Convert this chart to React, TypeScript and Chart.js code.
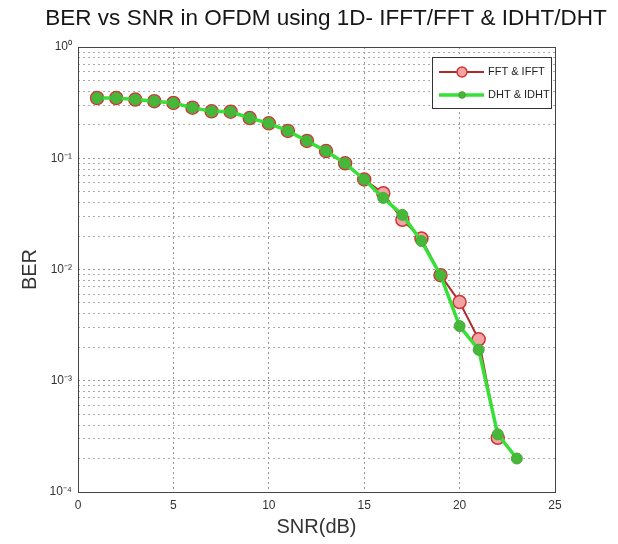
import React, { useEffect, useRef } from 'react';
import { Chart, registerables } from 'chart.js';

Chart.register(...registerables);

// ---- data ----
const snrFFT = [1, 2, 3, 4, 5, 6, 7, 8, 9, 10, 11, 12, 13, 14, 15, 16, 17, 18, 19, 20, 21, 22];
const berFFT = [0.348, 0.348, 0.337, 0.326, 0.314, 0.285, 0.264, 0.262, 0.23, 0.206, 0.176, 0.143, 0.116, 0.09, 0.0645, 0.0485, 0.028, 0.019, 0.0089, 0.0051, 0.00236, 0.000307];
const snrDHT = [1, 2, 3, 4, 5, 6, 7, 8, 9, 10, 11, 12, 13, 14, 15, 16, 17, 18, 19, 20, 21, 22, 23];
const berDHT = [0.348, 0.348, 0.337, 0.326, 0.314, 0.285, 0.264, 0.262, 0.23, 0.206, 0.176, 0.143, 0.116, 0.09, 0.0645, 0.044, 0.031, 0.018, 0.0089, 0.0031, 0.0019, 0.00033, 0.0002];

const seriesLabels = ['FFT & IFFT', 'DHT & IDHT'];
const xTicks = [0, 5, 10, 15, 20, 25];
const yDecades = [1e-4, 1e-3, 1e-2, 1e-1, 1];
const yTickLabels = ['10⁻⁴', '10⁻³', '10⁻²', '10⁻¹', '10⁰'];
const titleText = 'BER vs SNR in OFDM using 1D- IFFT/FFT & IDHT/DHT';
const xTitle = 'SNR(dB)';
const yTitle = 'BER';

const FONT = "'Liberation Sans', Arial, Helvetica, sans-serif";

// grid values for log axis (decades + 2..9 minors)
const yGridValues: number[] = [];
for (let i = 0; i < yDecades.length - 1; i++) {
  for (let m = 1; m <= 9; m++) yGridValues.push(m * yDecades[i]);
}
yGridValues.push(yDecades[yDecades.length - 1]);

const isDecade = (v: number) => yDecades.some((d) => Math.abs(Math.log10(v) - Math.log10(d)) < 1e-6);

const titlePlugin = {
  id: 'wideTitle',
  afterDraw(chart: any) {
    const { ctx } = chart;
    ctx.save();
    ctx.fillStyle = '#161616';
    ctx.font = `22.5px ${FONT}`;
    ctx.textAlign = 'center';
    ctx.textBaseline = 'middle';
    ctx.fillText(titleText, 326, 19);
    ctx.restore();
  },
};

const boxPlugin = {
  id: 'boxPlugin',
  afterDraw(chart: any) {
    const { ctx, chartArea } = chart;
    ctx.save();
    ctx.setLineDash([]);
    ctx.strokeStyle = '#444';
    ctx.lineWidth = 1;
    ctx.strokeRect(Math.round(chartArea.left) + 0.5, Math.round(chartArea.top) + 0.5,
      Math.round(chartArea.right - chartArea.left), Math.round(chartArea.bottom - chartArea.top));
    ctx.restore();
  },
};

const legendPlugin = {
  id: 'insideLegend',
  afterDraw(chart: any) {
    const { ctx } = chart;
    const x0 = 432, y0 = 57, w = 119, h = 51;
    ctx.save();
    ctx.setLineDash([]);
    ctx.fillStyle = '#fff';
    ctx.fillRect(x0, y0, w, h);
    ctx.strokeStyle = '#333';
    ctx.lineWidth = 1;
    ctx.strokeRect(x0 + 0.5, y0 + 0.5, w, h);
    const rows = [y0 + 15, y0 + 38];
    chart.data.datasets.forEach((ds: any, i: number) => {
      const y = rows[i];
      ctx.strokeStyle = ds.borderColor;
      ctx.lineWidth = ds.borderWidth;
      ctx.beginPath();
      ctx.moveTo(x0 + 7, y);
      ctx.lineTo(x0 + 52, y);
      ctx.stroke();
      ctx.beginPath();
      ctx.arc(x0 + 30, y, i === 0 ? 5 : 3, 0, Math.PI * 2);
      ctx.fillStyle = ds.pointBackgroundColor;
      ctx.fill();
      ctx.lineWidth = 1.5;
      ctx.strokeStyle = ds.pointBorderColor;
      ctx.stroke();
      ctx.fillStyle = '#222';
      ctx.font = `11px ${FONT}`;
      ctx.textBaseline = 'middle';
      ctx.textAlign = 'left';
      ctx.fillText(ds.label, x0 + 56, y);
    });
    ctx.restore();
  },
};

export default function App() {
  const ref = useRef<HTMLCanvasElement | null>(null);
  useEffect(() => {
    if (!ref.current) return;
    const chart = new Chart(ref.current, {
      type: 'line',
      data: {
        datasets: [
          {
            label: seriesLabels[0],
            data: snrFFT.map((x, i) => ({ x, y: berFFT[i] })),
            borderColor: '#b02a2a',
            borderWidth: 2,
            pointRadius: 6.5,
            pointBorderWidth: 1.5,
            pointBorderColor: '#d03434',
            pointBackgroundColor: '#f2a3a3',
            pointStyle: 'circle',
            order: 2,
          },
          {
            label: seriesLabels[1],
            data: snrDHT.map((x, i) => ({ x, y: berDHT[i] })),
            borderColor: '#36e036',
            borderWidth: 3.5,
            pointRadius: 5.5,
            pointBorderWidth: 1,
            pointBorderColor: '#4aa83a',
            pointBackgroundColor: '#45b83a',
            pointStyle: 'circle',
            order: 1,
          },
        ],
      },
      options: {
        animation: false,
        responsive: false,
        maintainAspectRatio: false,
        layout: { padding: { left: 0, right: 63, top: 47, bottom: 0 } },
        plugins: {
          legend: { display: false },
          tooltip: { enabled: false },
          title: { display: false },
        },
        scales: {
          x: {
            type: 'linear',
            min: 0,
            max: 25,
            afterBuildTicks: (scale: any) => {
              scale.ticks = xTicks.map((v) => ({ value: v }));
            },
            afterFit: (scale: any) => {
              scale.height = 52;
            },
            ticks: {
              color: '#333',
              font: { family: FONT, size: 12 },
              padding: 6,
              autoSkip: false,
              maxRotation: 0,
            },
            grid: { color: '#999', lineWidth: 1, drawTicks: false },
            border: { display: false, dash: [2, 3] },
            title: {
              display: true,
              text: xTitle,
              color: '#333',
              font: { family: FONT, size: 20 },
              padding: { top: 0, bottom: 5 },
            },
          },
          y: {
            type: 'logarithmic',
            min: yDecades[0],
            max: yDecades[yDecades.length - 1],
            afterBuildTicks: (scale: any) => {
              scale.ticks = yGridValues.map((v) => ({ value: v }));
            },
            afterFit: (scale: any) => {
              scale.width = 78;
            },
            ticks: {
              color: '#333',
              font: { family: FONT, size: 12 },
              padding: 6,
              autoSkip: false,
              callback: (value: any) => {
                const v = Number(value);
                const idx = yDecades.findIndex((d) => Math.abs(Math.log10(v) - Math.log10(d)) < 1e-6);
                return idx >= 0 ? yTickLabels[idx] : '';
              },
            },
            grid: {
              color: (ctx: any) => (ctx.tick && isDecade(ctx.tick.value) ? '#999' : '#aaa'),
              lineWidth: 1,
              drawTicks: false,
            },
            border: { display: false, dash: [2, 3] },
            title: {
              display: true,
              text: yTitle,
              color: '#333',
              font: { family: FONT, size: 20 },
              padding: { top: 18, bottom: 0 },
            },
          },
        },
      },
      plugins: [boxPlugin, legendPlugin, titlePlugin],
    } as any);
    return () => chart.destroy();
  }, []);
  return (
    <div style={{ position: 'fixed', left: 0, top: 0, width: 618, height: 544, background: '#fff' }}>
      <canvas ref={ref} width={618} height={544} style={{ width: 618, height: 544, display: 'block' }} />
    </div>
  );
}
